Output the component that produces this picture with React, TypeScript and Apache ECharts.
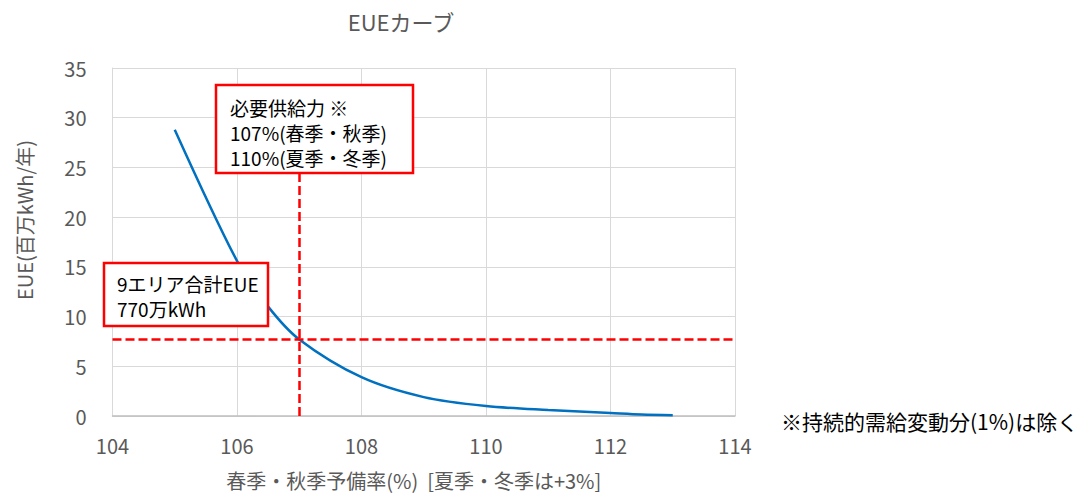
import React, { useEffect, useRef } from "react";
import * as echarts from "echarts";

const reserveRate = [105, 106, 106.5, 107, 108, 109, 110, 111, 112, 112.5, 113];
const eueValues = [28.8, 15.6, 11.0, 7.7, 3.9, 1.9, 1.0, 0.6, 0.3, 0.15, 0.08];
const xTicks = [104, 106, 108, 110, 112, 114];
const yTicks = [0, 5, 10, 15, 20, 25, 30, 35];
const requiredRate = 107;
const requiredEUE = 7.7;
const supplyLines = ["必要供給力 ※", "107%(春季・秋季)", "110%(夏季・冬季)"];
const eueLines = ["9エリア合計EUE", "770万kWh"];

const FONT = "'Noto Sans CJK JP', 'Noto Sans', sans-serif";

export default function App() {
  const ref = useRef<HTMLDivElement>(null);
  useEffect(() => {
    if (!ref.current) return;
    const chart = echarts.init(ref.current, undefined, { renderer: "svg" });
    const data = reserveRate.map((x, i) => [x, eueValues[i]]);
    const supplyTexts = supplyLines.map((t, i) => ({
      type: "text",
      x: 230,
      y: 107 + i * 25,
      style: { text: t, font: `19px ${FONT}`, fill: "#000000", verticalAlign: "middle" },
      z: 11,
    }));
    const eueTexts = eueLines.map((t, i) => ({
      type: "text",
      x: 117,
      y: 283 + i * 25,
      style: { text: t, font: `19px ${FONT}`, fill: "#000000", verticalAlign: "middle" },
      z: 11,
    }));
    chart.setOption({
      animation: false,
      textStyle: { fontFamily: FONT },
      title: {
        text: "EUEカーブ",
        left: 396,
        top: 5,
        textAlign: "center",
        textStyle: { fontFamily: FONT, fontSize: 22, fontWeight: "normal", color: "#595959" },
      },
      grid: { left: 112.5, right: 355, top: 68, bottom: 80 },
      xAxis: {
        type: "value",
        min: xTicks[0],
        max: xTicks[xTicks.length - 1],
        interval: 2,
        name: "春季・秋季予備率(%)  [夏季・冬季は+3%]",
        nameLocation: "middle",
        nameGap: 54,
        nameTextStyle: { fontFamily: FONT, fontSize: 20, color: "#595959", padding: [0, 20, 0, 0] },
        axisLine: { show: true, lineStyle: { color: "#BFBFBF", width: 1.5 } },
        axisTick: { show: false },
        axisLabel: { fontFamily: FONT, fontSize: 20, color: "#595959", margin: 19 },
        splitLine: { show: true, lineStyle: { color: "#D9D9D9", width: 1 } },
      },
      yAxis: {
        type: "value",
        min: yTicks[0],
        max: yTicks[yTicks.length - 1],
        interval: 5,
        name: "EUE(百万kWh/年)",
        nameLocation: "middle",
        nameGap: 78,
        nameRotate: 90,
        nameTextStyle: { fontFamily: FONT, fontSize: 20, color: "#595959", padding: [0, 0, 0, 44] },
        axisLine: { show: true, lineStyle: { color: "#D9D9D9", width: 1 } },
        axisTick: { show: false },
        axisLabel: { fontFamily: FONT, fontSize: 20, color: "#595959", margin: 26 },
        splitLine: { show: true, lineStyle: { color: "#D9D9D9", width: 1 } },
      },
      series: [
        {
          type: "line",
          data,
          smooth: 0.3,
          showSymbol: false,
          lineStyle: { color: "#0070C0", width: 2.5 },
          markLine: {
            silent: true,
            symbol: "none",
            label: { show: false },
            lineStyle: { color: "#FF0000", type: [9, 4], width: 2.5 },
            data: [
              [{ coord: [requiredRate, 0] }, { coord: [requiredRate, 24.45] }],
              [{ coord: [xTicks[0], requiredEUE] }, { coord: [xTicks[xTicks.length - 1], requiredEUE] }],
            ],
          },
          z: 3,
        },
      ],
      graphic: [
        {
          type: "rect",
          shape: { x: 216, y: 85, width: 197, height: 88 },
          style: { fill: "#FFFFFF", stroke: "#FF0000", lineWidth: 2.5 },
          z: 10,
        },
        ...supplyTexts,
        {
          type: "rect",
          shape: { x: 104, y: 263, width: 164, height: 63 },
          style: { fill: "#FFFFFF", stroke: "#FF0000", lineWidth: 2.5 },
          z: 10,
        },
        ...eueTexts,
        {
          type: "text",
          x: 781,
          y: 421,
          style: {
            text: "※持続的需給変動分(1%)は除く",
            font: `21px ${FONT}`,
            fill: "#000000",
            verticalAlign: "middle",
          },
          z: 11,
        },
      ],
    });
    return () => chart.dispose();
  }, []);
  return <div ref={ref} style={{ width: 1090, height: 496, position: "absolute", left: 0, top: 0 }} />;
}
